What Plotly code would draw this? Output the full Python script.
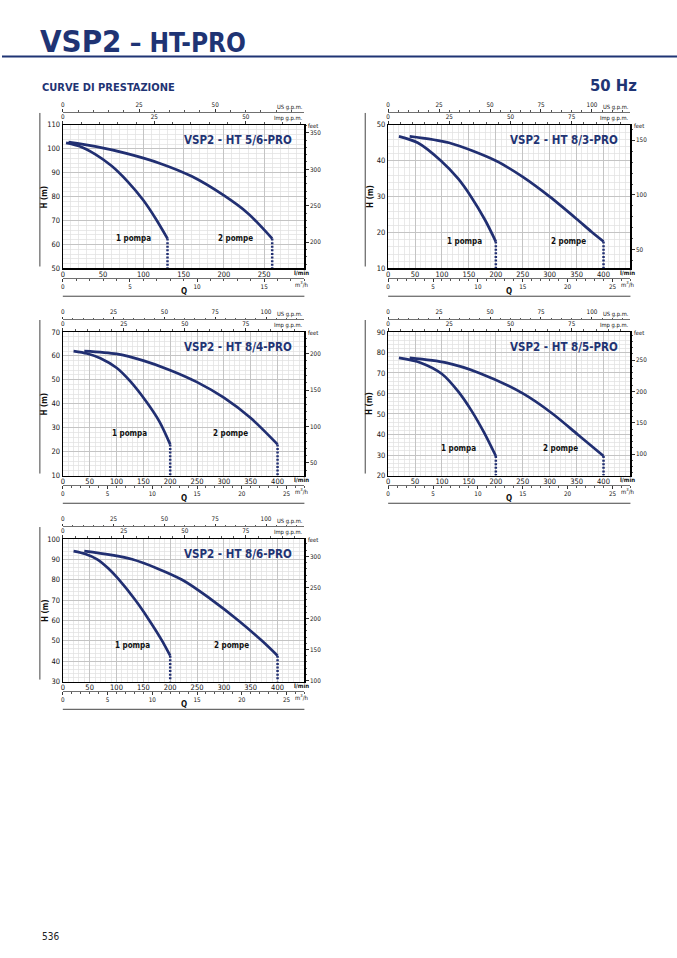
import plotly.graph_objects as go

W, H = 677, 958
FONT = "Liberation Sans Narrow, Arial Narrow, DejaVu Sans Condensed, sans-serif"
NAVY = "#1f3474"
CURVE = "#212f72"
GRID_MAJ = "#c4c4c4"
GRID_MIN = "#e0e0e0"

# ---------------- data ----------------
TITLES = ["VSP2 - HT 5/6-PRO", "VSP2 - HT 8/3-PRO", "VSP2 - HT 8/4-PRO",
          "VSP2 - HT 8/5-PRO", "VSP2 - HT 8/6-PRO"]
Q_RANGE = [[0, 300], [0, 450], [0, 450], [0, 450], [0, 450]]
H_RANGE = [[50, 110], [10, 50], [10, 70], [20, 90], [30, 100]]

# 5/6
Q1_A = [4, 20, 40, 60, 80, 100, 115, 130]
H1_A = [102.5, 101.2, 97.8, 93, 86.5, 78.5, 71, 62.5]
Q2_A = [7, 40, 80, 120, 160, 200, 230, 260]
H2_A = [102.8, 101, 98, 94, 88.5, 80.5, 73, 62.5]
# 8/3
Q1_B = [20, 55, 98, 130, 154, 180, 200]
H1_B = [46.8, 45, 40, 35, 30, 23.5, 17.5]
Q2_B = [40, 113, 200, 250, 300, 350, 377, 400]
H2_B = [46.8, 45, 40, 35.5, 30, 23.8, 20.3, 17.5]
# 8/4
Q1_C = [20, 45, 70, 100, 125, 155, 180, 200]
H1_C = [62, 61, 59, 55, 49.5, 41, 32.5, 23]
Q2_C = [40, 100, 150, 200, 250, 300, 350, 400]
H2_C = [62, 60.8, 58, 54, 49, 42.5, 34, 23]
# 8/5
Q1_D = [20, 60, 100, 130, 155, 178, 200]
H1_D = [77.3, 75, 69.5, 61, 51.5, 41, 29.5]
Q2_D = [40, 107, 169, 250, 306, 352, 400]
H2_D = [77.3, 75, 70, 60, 50, 40, 29.5]
# 8/6
Q1_E = [20, 42, 64, 85, 103, 135, 160, 185, 200]
H1_E = [94, 92.6, 90, 85.5, 80.5, 70, 60.5, 50, 42.7]
Q2_E = [40, 129, 222, 278, 327, 371, 400]
H2_E = [94, 90, 80, 70, 60, 50, 42.7]

Q1 = [Q1_A, Q1_B, Q1_C, Q1_D, Q1_E]
H1 = [H1_A, H1_B, H1_C, H1_D, H1_E]
Q2 = [Q2_A, Q2_B, Q2_C, Q2_D, Q2_E]
H2 = [H2_A, H2_B, H2_C, H2_D, H2_E]

LMIN_TICKS = [[0, 50, 100, 150, 200, 250]] + [[0, 50, 100, 150, 200, 250, 300, 350, 400]] * 4
M3H_TICKS = [[0, 5, 10, 15]] + [[0, 5, 10, 15, 20, 25]] * 4
USGPM_TICKS = [[0, 25, 50]] + [[0, 25, 50, 75, 100]] * 4
IMPGPM_TICKS = [[0, 25, 50]] + [[0, 25, 50, 75]] * 4

LABEL_1 = "1 pompa"
LABEL_2 = "2 pompe"

# unit conversions
L_PER_USGAL = 3.785
L_PER_IMPGAL = 4.546
M3H_PER_LMIN = 0.06
FT_PER_M = 3.2808

# ---------------- layout (pixel boxes) ----------------
BOX = [(61, 303.3, 122, 267), (387.3, 630.3, 122, 267), (61, 303.3, 331, 476),
       (387.3, 630.3, 331, 476), (61, 303.3, 540, 684)]
LAB_POS = [((88, 62.5), (215, 62.5)), ((141, 17.6), (335, 17.6)),
           ((125, 27.4), (312, 27.4)), ((131, 33), (320, 33)),
           ((130, 47.5), (314, 47.5))]


def px(x):
    return x / W


def py(y):
    return 1 - y / H


def xid(k):
    return "x" if k == 1 else f"x{k}"


def yid(k):
    return "y" if k == 1 else f"y{k}"


def xname(k):
    return "xaxis" if k == 1 else f"xaxis{k}"


def yname(k):
    return "yaxis" if k == 1 else f"yaxis{k}"


TICKF = dict(family=FONT, size=7.5, color="#111111")
SMALLF = dict(family=FONT, size=6.3, color="#111111")

fig = go.Figure()
layout = {}
annotations = []
shapes = []

for i in range(5):
    x0, x1, y0, y1 = BOX[i]
    xn = 4 * i + 1
    yn = 2 * i + 1
    qr = Q_RANGE[i]
    hr = H_RANGE[i]
    dom_x = [px(x0), px(x1)]
    dom_y = [py(y1), py(y0)]

    layout[xname(xn)] = dict(
        domain=dom_x, anchor=yid(yn), range=qr, tickmode="array", tickvals=LMIN_TICKS[i],
        showgrid=True, gridcolor=GRID_MAJ, gridwidth=1,
        minor=dict(tickmode="linear", tick0=0, dtick=10, showgrid=True, gridcolor=GRID_MIN, gridwidth=0.7),
        showline=True, linecolor="black", linewidth=1.3, ticks="", tickfont=TICKF,
        zeroline=False, fixedrange=True, ticklabelstandoff=-2)
    layout[xname(xn + 1)] = dict(
        overlaying=xid(xn), anchor="free", position=py(y1 + 10), side="bottom",
        range=[v * M3H_PER_LMIN for v in qr], tickmode="array", tickvals=M3H_TICKS[i],
        showgrid=False, showline=True, linecolor="#333333", linewidth=0.7,
        ticks="outside", ticklen=2.5, tickcolor="#333333",
        minor=dict(tickmode="linear", tick0=0, dtick=1, ticks="outside", ticklen=1.5, tickcolor="#555555"),
        tickfont=SMALLF, zeroline=False, fixedrange=True)
    layout[xname(xn + 2)] = dict(
        overlaying=xid(xn), anchor="free", position=py(y0 - 13), side="top",
        range=[v / L_PER_USGAL for v in qr], tickmode="array", tickvals=USGPM_TICKS[i],
        showgrid=False, showline=True, linecolor="#333333", linewidth=0.7,
        ticks="outside", ticklen=2.5, tickcolor="#333333",
        minor=dict(tickmode="linear", tick0=0, dtick=5, ticks="outside", ticklen=1.5, tickcolor="#555555"),
        tickfont=SMALLF, zeroline=False, fixedrange=True)
    layout[xname(xn + 3)] = dict(
        overlaying=xid(xn), anchor=yid(yn), side="top",
        range=[v / L_PER_IMPGAL for v in qr], tickmode="array", tickvals=IMPGPM_TICKS[i],
        showgrid=False, showline=True, linecolor="black", linewidth=1.3,
        ticks="outside", ticklen=2.5, tickcolor="#333333",
        minor=dict(tickmode="linear", tick0=0, dtick=5, ticks="outside", ticklen=1.5, tickcolor="#555555"),
        tickfont=SMALLF, zeroline=False, fixedrange=True)
    layout[yname(yn)] = dict(
        domain=dom_y, anchor=xid(xn), range=hr, dtick=10, tick0=0,
        showgrid=True, gridcolor=GRID_MAJ, gridwidth=1,
        minor=dict(tickmode="linear", tick0=0, dtick=2, showgrid=True, gridcolor=GRID_MIN, gridwidth=0.7),
        showline=True, linecolor="black", linewidth=1.3, ticks="", tickfont=TICKF,
        zeroline=False, fixedrange=True)
    layout[yname(yn + 1)] = dict(
        overlaying=yid(yn), anchor=xid(xn), side="right",
        range=[v * FT_PER_M for v in hr], dtick=50, tick0=0,
        showgrid=False, showline=True, linecolor="black", linewidth=1.3,
        ticks="outside", ticklen=3, tickcolor="#333333",
        minor=dict(tickmode="linear", tick0=0, dtick=10, ticks="outside", ticklen=1.5, tickcolor="#555555"),
        tickfont=SMALLF, zeroline=False, fixedrange=True)

    # curves
    for qs, hs in ((Q1[i], H1[i]), (Q2[i], H2[i])):
        fig.add_trace(go.Scatter(x=qs, y=hs, mode="lines",
                                 line=dict(color=CURVE, width=2.7, shape="spline", smoothing=0.8),
                                 xaxis=xid(xn), yaxis=yid(yn), showlegend=False, hoverinfo="skip"))
        fig.add_trace(go.Scatter(x=[qs[-1], qs[-1]], y=[hs[-1], hr[0]], mode="lines",
                                 line=dict(color=CURVE, width=2.5, dash="2px,1.6px"),
                                 xaxis=xid(xn), yaxis=yid(yn), showlegend=False, hoverinfo="skip"))
    # axis holders
    for xa, ya in ((xn + 1, yn), (xn + 2, yn), (xn + 3, yn), (xn, yn + 1)):
        fig.add_trace(go.Scatter(x=[None], y=[None], mode="markers", xaxis=xid(xa), yaxis=yid(ya),
                                 showlegend=False, hoverinfo="skip"))

    # texts
    annotations.append(dict(text=f"<b>{TITLES[i]}</b>", xref="paper", yref="paper", x=px(x1 - 10), y=py(y0 + 15),
                            xanchor="right", yanchor="middle", showarrow=False,
                            font=dict(family=FONT, size=11.5, color=NAVY)))
    for lab, (lq, lh) in ((LABEL_1, LAB_POS[i][0]), (LABEL_2, LAB_POS[i][1])):
        annotations.append(dict(text=f"<b>{lab}</b>", xref=xid(xn), yref=yid(yn), x=lq, y=lh,
                                xanchor="center", yanchor="middle", showarrow=False,
                                font=dict(family=FONT, size=8, color="#111111")))
    annotations.append(dict(text="<b>H (m)</b>", xref="paper", yref="paper", x=px(x0 - 18), y=py((y0 + y1) / 2),
                            textangle=-90, xanchor="center", yanchor="middle", showarrow=False,
                            font=dict(family=FONT, size=8, color="#111111")))
    annotations.append(dict(text="<b>Q</b>", xref="paper", yref="paper", x=px((x0 + x1) / 2), y=py(y1 + 23),
                            xanchor="center", yanchor="middle", showarrow=False,
                            font=dict(family=FONT, size=8, color="#111111")))
    annotations.append(dict(text="<b>l/min</b>", xref="paper", yref="paper", x=px(x1 - 3), y=py(y1 + 4),
                            xanchor="center", yanchor="middle", showarrow=False,
                            font=dict(family=FONT, size=6, color="#111111")))
    annotations.append(dict(text="m<sup>3</sup>/h", xref="paper", yref="paper", x=px(x1 - 3), y=py(y1 + 16),
                            xanchor="center", yanchor="middle", showarrow=False,
                            font=dict(family=FONT, size=6, color="#111111")))
    annotations.append(dict(text="US g.p.m.", xref="paper", yref="paper", x=px(x1 + 1), y=py(y0 - 18),
                            xanchor="right", yanchor="middle", showarrow=False,
                            font=dict(family=FONT, size=5.8, color="#111111")))
    annotations.append(dict(text="Imp g.p.m.", xref="paper", yref="paper", x=px(x1 + 1), y=py(y0 - 6),
                            xanchor="right", yanchor="middle", showarrow=False,
                            font=dict(family=FONT, size=5.8, color="#111111")))
    annotations.append(dict(text="feet", xref="paper", yref="paper", x=px(x1 + 2), y=py(y0 + 1),
                            xanchor="left", yanchor="middle", showarrow=False,
                            font=dict(family=FONT, size=5.8, color="#111111")))
    # decorative frame lines
    shapes.append(dict(type="line", xref="paper", yref="paper", x0=px(x0 - 23), x1=px(x0 - 23),
                       y0=py(y0 - 12), y1=py(y1 - 2), line=dict(color="#444444", width=1)))
    shapes.append(dict(type="line", xref="paper", yref="paper", x0=px(x0), x1=px(x1),
                       y0=py(y1 + 28), y1=py(y1 + 28), line=dict(color="#444444", width=1)))

# header
annotations.append(dict(text="<b>VSP2</b><b><span style='font-size:26px'> – HT-PRO</span></b>",
                        xref="paper", yref="paper", x=px(36), y=py(37), xanchor="left", yanchor="middle",
                        showarrow=False, font=dict(family=FONT, size=31, color=NAVY)))
shapes.append(dict(type="line", xref="paper", yref="paper", x0=0, x1=1, y0=py(53), y1=py(53),
                   line=dict(color=NAVY, width=2)))
annotations.append(dict(text="<b>CURVE DI PRESTAZIONE</b>", xref="paper", yref="paper", x=px(38), y=py(84),
                        xanchor="left", yanchor="middle", showarrow=False,
                        font=dict(family=FONT, size=11, color=NAVY)))
annotations.append(dict(text="<b>50 Hz</b>", xref="paper", yref="paper", x=px(639), y=py(82),
                        xanchor="right", yanchor="middle", showarrow=False,
                        font=dict(family=FONT, size=16.5, color=NAVY)))
annotations.append(dict(text="536", xref="paper", yref="paper", x=px(38), y=py(941),
                        xanchor="left", yanchor="middle", showarrow=False,
                        font=dict(family=FONT, size=10, color="#222222")))

fig.update_layout(width=W, height=H, margin=dict(l=0, r=0, t=0, b=0),
                  paper_bgcolor="white", plot_bgcolor="white", showlegend=False,
                  annotations=annotations, shapes=shapes, **layout)

fig.write_html("out.html", config={"displayModeBar": False, "staticPlot": True},
               post_script="document.body.style.margin='0px';document.body.style.overflow='hidden';")
